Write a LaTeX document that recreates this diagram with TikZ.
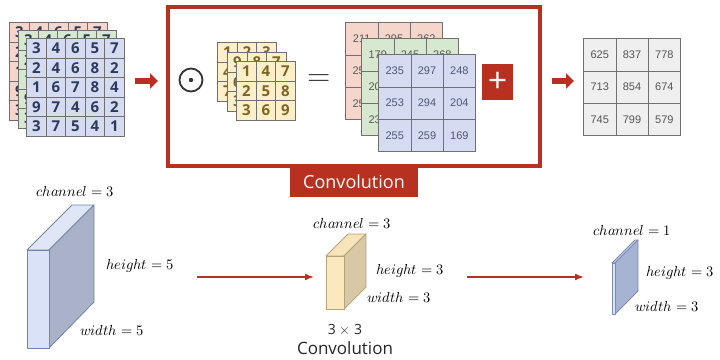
\documentclass[tikz,border=0pt]{standalone}
\usepackage{fontspec}
\usepackage{unicode-math}
\setmathfont{Latin Modern Math}
\setsansfont{Open Sans}
\newfontfamily\numfont{Liberation Sans}
\usepackage{tikz}
\usetikzlibrary{positioning,arrows.meta,matrix}
\usepackage{xcolor}
\definecolor{convred}{HTML}{B8301F}
\definecolor{gridgray}{HTML}{707070}
\definecolor{inpink}{HTML}{F6D5CB}
\definecolor{ingreen}{HTML}{D7E8D0}
\definecolor{inblue}{HTML}{D5DCF1}
\definecolor{innavy}{HTML}{2E3A5C}
\definecolor{kyellow}{HTML}{FCEFC9}
\definecolor{kbrown}{HTML}{7D6522}
\definecolor{outgray}{HTML}{EFEFEF}
\definecolor{outtext}{HTML}{555555}
\definecolor{bluetop}{HTML}{DFE6F7}
\definecolor{blueside}{HTML}{A9B2C8}
\definecolor{bluefront}{HTML}{D9E2F6}
\definecolor{blueedge}{HTML}{7084AE}
\definecolor{yeltop}{HTML}{F7E4B9}
\definecolor{yelside}{HTML}{D8C8A4}
\definecolor{yelfront}{HTML}{FBE8BF}
\definecolor{yeledge}{HTML}{B7A37A}
\definecolor{thintop}{HTML}{C9D2EC}
\definecolor{thinside}{HTML}{A7B3D3}
\definecolor{thinfront}{HTML}{DCE3F5}
\definecolor{thinedge}{HTML}{7A8CB8}

\begin{document}
\begin{tikzpicture}[
    x=1pt, y=-1pt,
    cell/.style={draw=gridgray, line width=0.8pt, minimum size=19.5pt, inner sep=0pt, anchor=center},
    grid/.style={matrix of nodes, inner sep=0pt, anchor=north west, column sep=-0.8pt, row sep=-0.8pt},
    incell/.style={cell, text=innavy, font=\sffamily\bfseries\fontsize{15}{15}\selectfont},
    kcell/.style={cell, fill=kyellow, text=kbrown, font=\sffamily\bfseries\fontsize{15}{15}\selectfont},
    rcell/.style={cell, minimum size=32.3pt, font=\numfont\fontsize{11}{11}\selectfont},
    bigarrow/.style={-{Triangle[length=8pt,width=15pt]}, line width=6pt, convred},
    arrow/.style={-{Latex[length=9pt,width=7pt]}, line width=1.6pt, convred},
    lbl/.style={font=\fontsize{14.5}{14.5}\selectfont, text=black},
    face/.style={line width=0.8pt, line join=round}
]
    \useasboundingbox (0,0) rectangle (720,359);

    % Input: three 5x5 channels
    \matrix[grid, nodes={incell, fill=inpink}] (inA) at (9,22) {
        3 & 4 & 6 & 5 & 7 \\ 2 & 4 & 6 & 8 & 2 \\ 1 & 6 & 7 & 8 & 4 \\ 9 & 7 & 4 & 6 & 2 \\ 3 & 7 & 5 & 4 & 1 \\};
    \matrix[grid, nodes={incell, fill=ingreen}] (inB) at (18,30) {
        3 & 4 & 6 & 5 & 7 \\ 2 & 4 & 6 & 8 & 2 \\ 1 & 6 & 7 & 8 & 4 \\ 9 & 7 & 4 & 6 & 2 \\ 3 & 7 & 5 & 4 & 1 \\};
    \matrix[grid, nodes={incell, fill=inblue}] (inC) at (26,38) {
        3 & 4 & 6 & 5 & 7 \\ 2 & 4 & 6 & 8 & 2 \\ 1 & 6 & 7 & 8 & 4 \\ 9 & 7 & 4 & 6 & 2 \\ 3 & 7 & 5 & 4 & 1 \\};

    \coordinate (a0s) at (135,81);
    \coordinate (a0e) at (158,81);
    \draw[bigarrow] (a0s) -- (a0e);

    % Convolution frame
    \node[draw=convred, line width=3.5pt, minimum width=372pt, minimum height=159pt] (convbox) at (354,86.5) {};
    \node[fill=convred, text=white, minimum width=128pt, minimum height=29pt, inner sep=0pt,
          font=\sffamily\fontsize{18}{18}\selectfont] (convlbl) at (354,182) {Convolution};

    \node[circle, draw=black!80, line width=1.8pt, minimum size=23pt, inner sep=0pt] (odot) at (191,80) {};
    \fill[black!80] (odot.center) circle (2.2pt);

    % Kernels: three 3x3 channels
    \matrix[grid, nodes={kcell}] (kA) at (217,42) {
        1 & 2 & 3 \\ 4 & 5 & 6 \\ 7 & 8 & 9 \\};
    \matrix[grid, nodes={kcell}] (kB) at (227,52) {
        9 & 8 & 7 \\ 6 & 5 & 4 \\ 3 & 2 & 1 \\};
    \matrix[grid, nodes={kcell}] (kC) at (236,61) {
        1 & 4 & 7 \\ 2 & 5 & 8 \\ 3 & 6 & 9 \\};

    \node[text=black!75, font=\fontsize{30}{30}\selectfont] (eq) at (319,80) {$=$};

    % Per-channel results
    \matrix[grid, nodes={rcell, fill=inpink, text=black!65}] (rA) at (345,22) {
        211 & 295 & 262 \\ 252 & 284 & 244 \\ 256 & 277 & 215 \\};
    \matrix[grid, nodes={rcell, fill=ingreen, text=black!65}] (rB) at (361,38) {
        179 & 245 & 268 \\ 208 & 276 & 226 \\ 234 & 263 & 195 \\};
    \matrix[grid, nodes={rcell, fill=inblue, text=innavy!85}] (rC) at (378,54) {
        235 & 297 & 248 \\ 253 & 294 & 204 \\ 255 & 259 & 169 \\};

    \node[fill=convred, text=white, minimum width=31pt, minimum height=36pt, inner sep=0pt,
          font=\sffamily\fontsize{34}{34}\selectfont] (plus) at (497.5,82) {+};

    \coordinate (a1s) at (552,81);
    \coordinate (a1e) at (574,81);
    \draw[bigarrow] (a1s) -- (a1e);

    % Output
    \matrix[grid, nodes={rcell, fill=outgray, text=outtext}] (out) at (583,38) {
        625 & 837 & 778 \\ 713 & 854 & 674 \\ 745 & 799 & 579 \\};

    % Bottom: input block
    \filldraw[face, draw=blueedge, fill=bluetop] (27,250) -- (72,205) -- (94,205) -- (49,250) -- cycle;
    \filldraw[face, draw=blueedge, fill=blueside] (49,250) -- (94,205) -- (94,302) -- (49,348) -- cycle;
    \filldraw[face, draw=blueedge, fill=bluefront] (27,250) rectangle (49,348);
    \node[lbl] (c1) at (75,192) {$channel = 3$};
    \node[lbl] (h1) at (140,266) {$height = 5$};
    \node[lbl] (w1) at (112,331) {$width = 5$};

    \coordinate (b0s) at (197,277);
    \coordinate (b0e) at (314,277);
    \draw[arrow] (b0s) -- (b0e);

    % Bottom: kernel block
    \filldraw[face, draw=yeledge, fill=yeltop] (326,256) -- (348,234) -- (366,234) -- (344,256) -- cycle;
    \filldraw[face, draw=yeledge, fill=yelside] (344,256) -- (366,234) -- (366,287) -- (344,309) -- cycle;
    \filldraw[face, draw=yeledge, fill=yelfront] (326,256) rectangle (344,309);
    \node[lbl] (c2) at (352,224) {$channel = 3$};
    \node[lbl] (h2) at (410,271) {$height = 3$};
    \node[lbl] (w2) at (399,298) {$width = 3$};
    \node[font=\sffamily\fontsize{14}{14}\selectfont, text=black!85] (k2) at (345,329) {3 $\times$ 3};
    \node[font=\sffamily\fontsize{17}{17}\selectfont, text=black!85] (n2) at (345,348) {Convolution};

    \coordinate (b1s) at (467,277);
    \coordinate (b1e) at (584,277);
    \draw[arrow] (b1s) -- (b1e);

    % Bottom: output block
    \filldraw[face, draw=thinedge, fill=thintop] (612,263) -- (635,240) -- (638,240) -- (615,263) -- cycle;
    \filldraw[face, draw=thinedge, fill=thinside] (615,263) -- (638,240) -- (638,291) -- (615,314) -- cycle;
    \filldraw[face, draw=thinedge, fill=thinfront] (612,263) rectangle (615,314);
    \node[lbl] (c3) at (632,231) {$channel = 1$};
    \node[lbl] (h3) at (680,273) {$height = 3$};
    \node[lbl] (w3) at (667,307) {$width = 3$};
\end{tikzpicture}
\end{document}
